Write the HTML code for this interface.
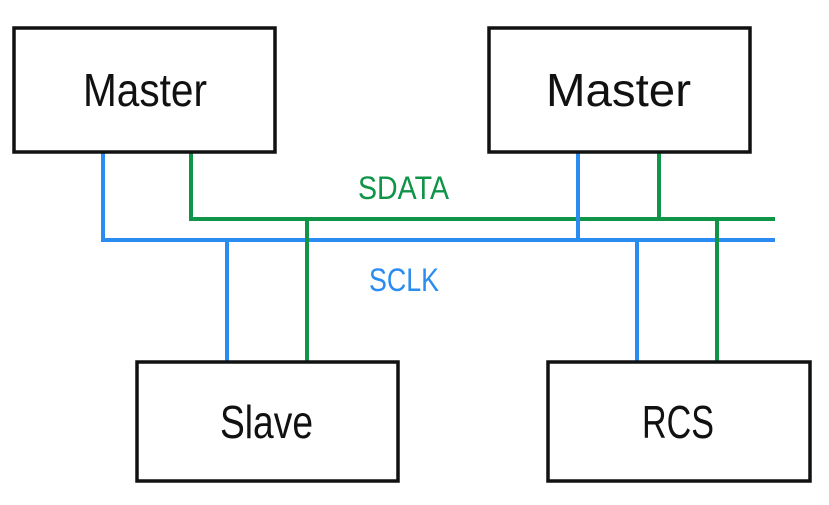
<!DOCTYPE html>
<html><head><meta charset="utf-8"><style>
html,body{margin:0;padding:0;background:#fff;}
svg{display:block}
text{font-family:"Liberation Sans Narrow","Liberation Sans",sans-serif;}
</style></head><body>
<svg width="829" height="505" viewBox="0 0 829 505" xmlns="http://www.w3.org/2000/svg">
<g fill="none" stroke-width="4">
<polyline points="103,152 103,240 775,240" stroke="#2a8cf0"/>
<polyline points="191,152 191,219 775,219" stroke="#0f9448"/>
<line x1="227" y1="240" x2="227" y2="361" stroke="#2a8cf0"/>
<line x1="307" y1="219" x2="307" y2="361" stroke="#0f9448"/>
<line x1="578" y1="152" x2="578" y2="240" stroke="#2a8cf0"/>
<line x1="659" y1="152" x2="659" y2="219" stroke="#0f9448"/>
<line x1="637" y1="240" x2="637" y2="361" stroke="#2a8cf0"/>
<line x1="717" y1="219" x2="717" y2="361" stroke="#0f9448"/>
</g>
<g fill="#fff" stroke="#111" stroke-width="3.5">
<rect x="14" y="28" width="261" height="124"/>
<rect x="489" y="28" width="261" height="124"/>
<rect x="137" y="362" width="261" height="119"/>
<rect x="548" y="362" width="262" height="119"/>
</g>
<g fill="#111" font-size="46">
<text x="83" y="106" textLength="124" lengthAdjust="spacingAndGlyphs">Master</text>
<text x="546" y="106" textLength="145" lengthAdjust="spacingAndGlyphs">Master</text>
<text x="220" y="438" textLength="93" lengthAdjust="spacingAndGlyphs">Slave</text>
<text x="642" y="438" textLength="72" lengthAdjust="spacingAndGlyphs">RCS</text>
</g>
<text x="358" y="199" font-size="32" fill="#0f9448" textLength="91" lengthAdjust="spacingAndGlyphs">SDATA</text>
<text x="369" y="291" font-size="32" fill="#2a8cf0" textLength="70" lengthAdjust="spacingAndGlyphs">SCLK</text>
</svg>
</body></html>
